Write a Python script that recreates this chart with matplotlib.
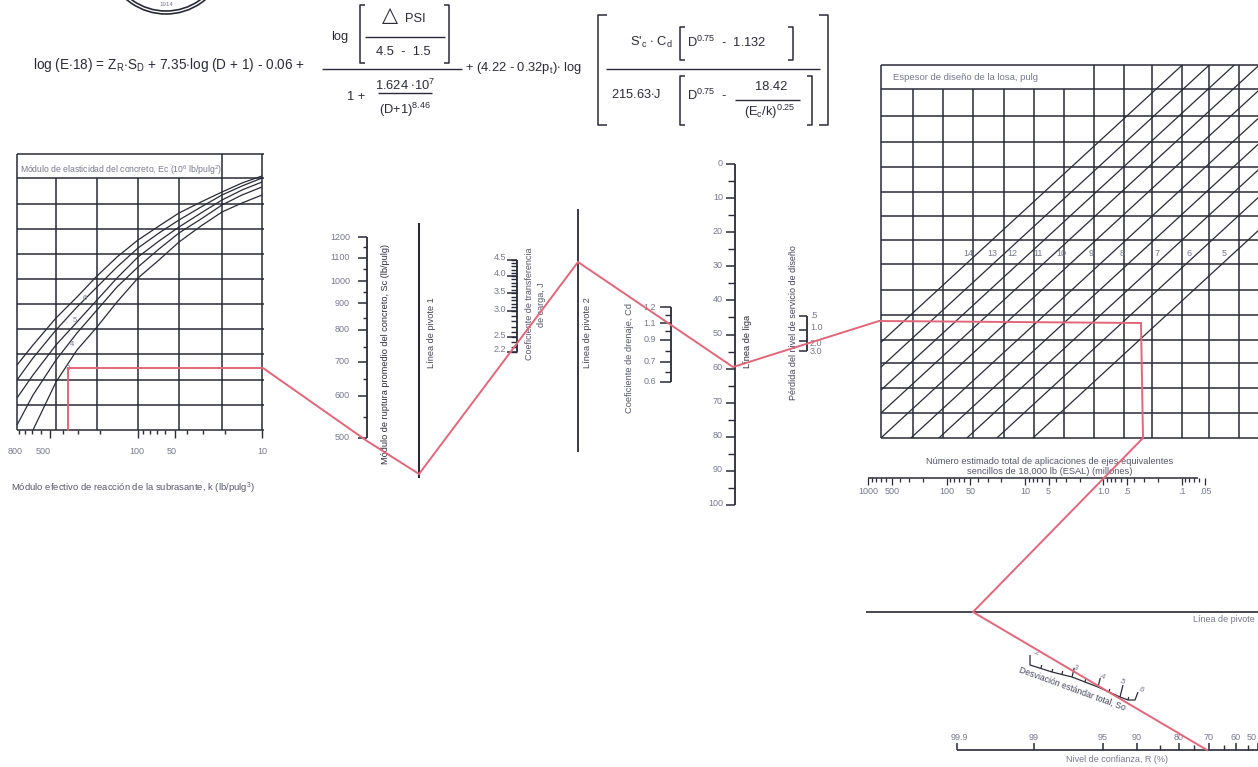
import numpy as np
import matplotlib
matplotlib.use('Agg')
import matplotlib.pyplot as plt
from matplotlib.patches import Arc, Rectangle

plt.rcParams['font.family'] = ['Liberation Sans', 'DejaVu Sans']
plt.rcParams['mathtext.fontset'] = 'custom'
plt.rcParams['mathtext.rm'] = 'Liberation Sans'
plt.rcParams['mathtext.it'] = 'Liberation Sans'

DARK = '#2a2a38'
SOFT = '#77778f'
RED = '#e2667a'

# left chart: grid and the five Ec curves
left_grid_x = [17, 56, 97, 138, 179, 222, 262]
left_grid_y = [154, 178, 204, 229, 254, 279, 304, 329, 354, 380, 405, 430]
curve_x = [17, 33, 56, 77, 97, 117, 138, 159, 179, 201, 222, 242, 262]
curve_1 = [365, 345, 318, 297, 276, 257, 240, 226, 213, 202, 192, 183, 176]
curve_2 = [380, 358, 330, 307, 287, 267, 248, 233, 220, 207, 195, 186, 178]
curve_3 = [398, 375, 345, 322, 300, 278, 257, 241, 227, 213, 200, 190, 182]
curve_4 = [425, 395, 360, 333, 310, 287, 267, 249, 233, 219, 205, 195, 187]
curve_5 = [430, 382, 350, 327, 302, 278, 260, 242, 226, 212, 203, 195]
k_ticks = [900, 800, 700, 600, 500, 400, 300, 200, 100, 90, 80, 70, 60, 50, 40, 30, 20, 10]
k_labels = ['800', '500', '100', '50', '10']
k_label_x = [15, 43, 137, 172, 262]

# vertical scales of the nomograph
sc_labels = ['1200', '1100', '1000', '900', '800', '700', '600', '500']
sc_major = [237, 258, 281, 303, 330, 362, 396, 438]
sc_minor = [247, 269, 292, 318, 347, 379, 417]
j_values = [4.5, 4.0, 3.5, 3.0, 2.5, 2.2]
j_pos = [260, 276, 293, 311, 337, 352]
cd_labels = ['1.2', '1.1', '0.9', '0.7', '0.6']
cd_major = [307, 323, 340, 362, 382]
cd_minor = [315, 331, 351, 372]
d_values = list(range(0, 101, 10))
psi_labels = ['.5', '1.0', '2.0', '3.0']
psi_major = [316, 330, 341, 351]
psi_label_y = [315, 327, 343, 351]

# right chart: grid and slab thickness diagonals
right_grid_x = [881, 913, 943, 973, 1004, 1034, 1064, 1094, 1124, 1152, 1182, 1209, 1239]
right_grid_y = [65, 89, 116, 142, 167, 192, 216, 240, 264, 290, 315, 340, 363, 388, 413, 438]
thickness = ['14', '13', '12', '11', '10', '9', '8', '7', '6', '5']
thickness_x = [968, 992, 1012, 1038, 1061, 1091, 1122, 1157, 1189, 1224]
diag_x_at_264 = [966, 993, 1018, 1043, 1070, 1100, 1128, 1156, 1186, 1222]

# ESAL scale
esal_ticks = [1000, 900, 800, 700, 600, 500, 400, 300, 200,
              100, 90, 80, 70, 60, 50, 40, 30, 20,
              10, 9, 8, 7, 6, 5, 4, 3, 2,
              1, .9, .8, .7, .6, .5, .4, .3, .2,
              .1, .09, .08, .07, .06, .05]
esal_labels = [1000, 500, 100, 50, 10, 5, 1.0, .5, .1, .05]
esal_text = ['1000', '500', '100', '50', '10', '5', '1.0', '.5', '.1', '.05']

# reliability and standard deviation scales
r_labels = ['99.9', '99', '95', '90', '80', '70', '60', '50']
r_major = [957, 1034, 1103, 1137, 1179, 1209, 1236, 1258]
r_minor = [1160, 1194, 1224, 1248]
so_x = [1030, 1030, 1052, 1072, 1085, 1098, 1120, 1128, 1135, 1138]
so_y = [655, 665, 672, 677, 682, 687, 697, 700, 700, 692]
so_tick_x = [1041, 1052, 1062, 1072, 1085, 1098, 1109, 1120, 1128]
so_tick_y = [668, 672, 674, 677, 682, 687, 692, 697, 700]
so_tick_len = [3, 3, 3, 9, 3, 9, 3, 12, 3]

# red worked example
path_x = [68, 68, 263, 367, 419, 578, 733, 879, 1141, 1143, 973, 1207]
path_y = [430, 368, 368, 441, 474, 262, 367, 321, 323, 438, 612, 750]

fig = plt.figure(figsize=(12.58, 7.67), dpi=100)
ax = fig.add_axes([0, 0, 1, 1])
ax.set_xlim(0, 1258)
ax.set_ylim(767, 0)
ax.axis('off')


def seg(x, y, lw=1.0, color=DARK):
    ax.plot(x, y, color=color, lw=lw, solid_capstyle='butt')


def label(x, y, s, size=6.5, color=SOFT, **kw):
    kw.setdefault('ha', 'center')
    kw.setdefault('va', 'center')
    ax.text(x, y, s, fontsize=size, color=color, **kw)


def vscale(x, major, minor, tick, minor_tick, side=-1):
    seg([x, x], [min(major), max(major)], 1.3)
    for y in major:
        seg([x, x + side * tick], [y, y], 1.1)
    for y in minor:
        seg([x, x + side * minor_tick], [y, y], 1.0)


# logo
for r in (61, 58):
    ax.add_patch(Arc((166, -47), 2 * r, 2 * r, theta1=20, theta2=160, color=DARK, lw=1.2))
label(166, 4, '1914', size=4.5)

# equation
fs = 9.3
label(33, 65, r'log (E$\cdot$18) = Z$_{\mathrm{R}}$$\cdot$S$_{\mathrm{D}}$ + 7.35$\cdot$log (D + 1) - 0.06 +',
      size=9.8, color=DARK, ha='left')
label(340, 37, 'log', size=fs, color=DARK)
label(390, 16, '△', size=15, color=DARK)
label(415, 19, 'PSI', size=fs, color=DARK)
label(403, 52, '4.5  -  1.5', size=fs, color=DARK)
label(356, 97, '1 +', size=fs, color=DARK)
label(405, 85, r'1.624 $\cdot$10$^{7}$', size=fs, color=DARK)
label(405, 110, r'(D+1)$^{8.46}$', size=fs, color=DARK)
label(465, 68, r'+ (4.22 - 0.32p$_{\mathrm{t}}$)$\cdot$ log', size=fs, color=DARK, ha='left')
label(630, 42, r"S'$_{\mathrm{c}}$ $\cdot$ C$_{\mathrm{d}}$", size=fs, color=DARK, ha='left')
label(687, 42, r'D$^{0.75}$  -  1.132', size=fs, color=DARK, ha='left')
label(611, 95, r'215.63$\cdot$J', size=fs, color=DARK, ha='left')
label(687, 95, r'D$^{0.75}$  -', size=fs, color=DARK, ha='left')
label(771, 87, '18.42', size=fs, color=DARK)
label(770, 112, r'(E$_{\mathrm{c}}$/k)$^{0.25}$', size=fs, color=DARK)
for x0, x1, y in [(322, 462, 69), (365, 445, 37), (378, 432, 93), (606, 820, 69), (735, 800, 100)]:
    seg([x0, x1], [y, y], 1.0)
for x, y0, y1, d in [(360, 5, 63, 5), (449, 5, 63, -5), (598, 15, 125, 9), (828, 15, 125, -9),
                     (680, 27, 60, 5), (793, 27, 60, -5), (680, 76, 125, 5), (812, 76, 125, -5)]:
    seg([x + d, x, x, x + d], [y0, y0, y1, y1], 1.1)

# left chart
for y in left_grid_y:
    seg([17, 264], [y, y], 1.1)
for x in left_grid_x:
    seg([x, x], [154 if x in (17, 222, 262) else 178, 430], 1.1)
for cy in (curve_1, curve_2, curve_3, curve_4):
    seg(curve_x, cy, 0.9)
seg(curve_x[1:], curve_5, 0.9)
for x, y, s in [(85, 298, '6'), (75, 320, '5'), (72, 345, '4'), (68, 368, '3')]:
    label(x, y, s, size=5.5)
label(20, 170, r'Módulo de elasticidad del concreto, Ec (10$^{6}$ lb/pulg$^{2}$)', size=6.2, ha='left')
for v in k_ticks:
    x = 262.3 - 124.7 * (np.log10(v) - 1)
    seg([x, x], [430, 438 if v in (500, 100, 50, 10) else 434], 1.0)
for x, s in zip(k_label_x, k_labels):
    label(x, 452, s)
label(133, 488, r'Módulo efectivo de reacción de la subrasante, k (lb/pulg$^{3}$)', size=6.8, color='#55556b')

# middle scales
vscale(367, sc_major, sc_minor, 9, 4)
for y, s in zip(sc_major, sc_labels):
    label(350, y, s, ha='right')
label(386, 354, 'Módulo de ruptura promedio del concreto, Sc (lb/pulg)', size=6.6, color=DARK, rotation=90)
seg([419, 419], [223, 478], 1.5)
label(431, 333, 'Línea de pivote 1', size=6.6, color='#44445a', rotation=90)
j_all = np.arange(2.2, 4.55, 0.1)
j_y = np.interp(j_all, j_values[::-1], j_pos[::-1])
vscale(517, j_pos, j_y, 10, 6)
for y, v in zip(j_pos, j_values):
    label(506, y - 2, f'{v:.1f}', ha='right')
label(530, 304, 'Coeficiente de transferencia', size=6.5, color='#55556b', rotation=90)
label(542, 305, 'de carga, J', size=6.5, color='#55556b', rotation=90)
seg([578, 578], [209, 452], 1.3)
label(588, 333, 'Línea de pivote 2', size=6.6, color='#44445a', rotation=90)
vscale(671, cd_major, cd_minor, 11, 6)
for y, s in zip(cd_major, cd_labels):
    label(656, y, s, ha='right')
label(629, 358, 'Coeficiente de drenaje, Cd', size=6.7, color='#55556b', rotation=90)
d_major = [164 + 3.41 * v for v in d_values]
d_minor = [164 + 3.41 * (v + 5) for v in d_values[:-1]]
vscale(735, d_major, d_minor, 9, 7)
for y, v in zip(d_major, d_values):
    label(723, y - 1, str(v), ha='right')
label(748, 341, 'Línea de liga', size=6.7, color=DARK, rotation=90)
label(793, 323, 'Pérdida del nivel de servicio de diseño', size=6.5, color='#44445a', rotation=90)
vscale(807, psi_major, [], 8, 0)
for y, s in zip(psi_label_y, psi_labels):
    label(810, y, s, ha='left')

# right chart
for y in right_grid_y:
    seg([881, 1258], [y, y], 1.1)
for x in right_grid_x:
    seg([x, x], [65 if x == 881 or x >= 1094 else 89, 438], 1.1)
frame = Rectangle((881, 65), 377, 373, transform=ax.transData)
for x0 in diag_x_at_264:
    xs = np.array([x0 - 350, x0 + 350])
    ys = 264 - 0.92 * (xs - x0)
    line, = ax.plot(xs, ys, color=DARK, lw=0.9)
    line.set_clip_path(frame)
for x, s in zip(thickness_x, thickness):
    label(x, 254, s)
label(893, 78, 'Espesor de diseño de la losa, pulg', size=6.8, ha='left')
label(1050, 461, 'Número estimado total de aplicaciones de ejes equivalentes', size=6.7, color='#55556b')
label(1050, 471, 'sencillos de 18,000 lb (ESAL) (millones)', size=6.7, color='#55556b')
seg([868, 1198], [478, 478], 1.1)
for v in esal_ticks:
    x = 1103.3 - 78.3 * np.log10(v)
    seg([x, x], [478, 485 if v in esal_labels else 482], 0.9)
for v, s in zip(esal_labels, esal_text):
    label(1103.3 - 78.3 * np.log10(v), 491, s)

# pivot line and lower scales
seg([866, 1258], [612, 612], 1.2)
label(1193, 619, 'Línea de pivote', size=6.5, ha='left')
seg(so_x, so_y, 0.9)
for x, y, n in zip(so_tick_x, so_tick_y, so_tick_len):
    seg([x, x + n * 0.25], [y, y - n], 0.9)
for x, y, s in [(1036, 653, '.2'), (1075, 668, '.3'), (1102, 677, '.4'), (1122, 682, '.5'), (1141, 690, '.6')]:
    label(x, y, s, size=5.5, rotation=-25)
label(1072, 689, 'Desviación estándar total, So', size=6.2, color='#44445a', rotation=-20)
seg([957, 1258], [750, 750], 1.2)
for x in r_major:
    seg([x, x], [750, 743], 1.1)
for x in r_minor:
    seg([x, x], [750, 745], 1.0)
for x, s in zip(r_major, r_labels):
    if x == 1258:
        label(1257, 737, s, ha='right')
    else:
        label(x + 2 if x == 957 else x, 737, s)
label(1117, 760, 'Nivel de confianza, R (%)', size=6.5)

ax.plot(path_x, path_y, color=RED, lw=1.4, solid_joinstyle='miter', zorder=5)

fig.savefig('out.png', dpi=100)
